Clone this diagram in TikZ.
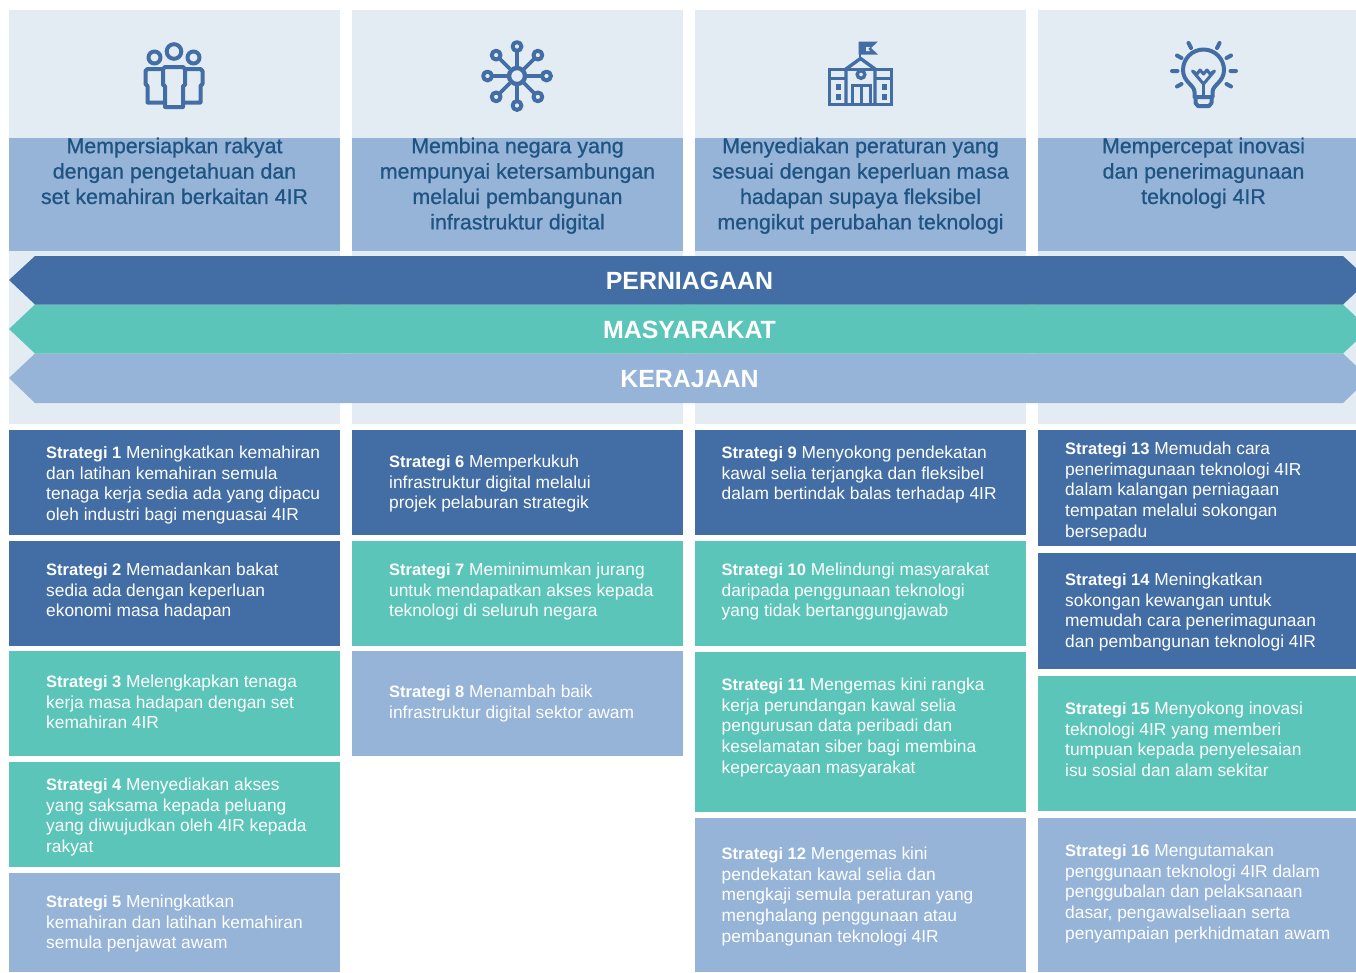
\documentclass[tikz,border=0pt]{standalone}
\usepackage{fontspec}
\usetikzlibrary{calc}
\setmainfont{Liberation Sans}
\newfontfamily\medfont[FakeBold=0.8]{Liberation Sans}
\definecolor{cdark}{HTML}{436EA5}
\definecolor{cteal}{HTML}{5BC5BA}
\definecolor{clight}{HTML}{96B4D8}
\definecolor{cpale}{HTML}{E3ECF3}
\definecolor{chead}{HTML}{1F5482}
\tikzset{
  x=1pt,y=-1pt,
  stratbox/.style={fill=#1,draw=none,inner sep=0pt,anchor=north west},
  strattext/.style={anchor=north west,inner sep=0pt,text=white,align=left,font=\fontsize{17.35}{20.85}\selectfont},
  headtext/.style={anchor=north,inner sep=0pt,text=chead,align=center,font=\fontsize{21.35}{25.4}\selectfont\medfont},
  bannertext/.style={anchor=base,text=white,inner sep=0pt,font=\fontsize{24.9}{30}\selectfont\bfseries},
  icon/.style={draw=cdark,line width=4pt,line join=round,line cap=round,fill=none},
}
\newcommand{\strat}[9]{%
  \node[stratbox=#6,minimum width=#5pt,minimum height=\the\numexpr#3-#2\relax pt] (b#1) at (#9,#2) {};
  \node[strattext] (t#1) at (#4,#7-14) {\rule{0pt}{14pt}{\fontsize{16.5}{20.85}\selectfont\bfseries Strategi #1} #8};
}
\newcommand{\bannerpath}[4]{%
  \fill[#1] (9,#3) -- (35,#2) -- (1343,#2) -- (1369,#3) -- (1343,#4) -- (35,#4) -- cycle;
}
\begin{document}
\begin{tikzpicture}
\useasboundingbox (0,0) rectangle (1356,972);
\clip (0,0) rectangle (1356,972);
% pale column backgrounds
\foreach \cx/\cw in {9/331,352/331,695/331,1038/318}{
  \fill[cpale] (\cx,10) rectangle ++(\cw,414);
  \fill[clight] (\cx,138) rectangle ++(\cw,113);
}
% icons: people
\draw[icon] (174,51.5) circle (7.3);
\draw[icon] (154.5,57.5) circle (6);
\draw[icon] (193.5,57.5) circle (6);
\draw[icon] (165,67) -- (183,67) -- (185,69) -- (185,85) -- (183,86) -- (183,107) -- (165,107) -- (165,86) -- (163,85) -- (163,69) -- cycle;
\draw[icon] (163,69) -- (147.5,69) -- (145.5,71) -- (145.5,84) -- (147.5,86) -- (147.5,102.5) -- (165,102.5);
\draw[icon] (185,69) -- (200.5,69) -- (202.5,71) -- (202.5,84) -- (200.5,86) -- (200.5,102.5) -- (183,102.5);
% icons: network
\draw[icon,line width=4.4pt] (517,76) circle (8);
\foreach \a in {0,45,...,315}{
  \draw[draw=cdark,line width=3.6pt] ($(517,76)+(\a:10)$) -- ($(517,76)+(\a:25)$);
  \draw[icon,line width=4pt] ($(517,76)+(\a:29.5)$) circle (4.4);
}
% icons: building
\draw[draw=cdark,line width=3.4pt,line join=miter] (829.7,69.7) rectangle (891.3,104.7);
\draw[draw=cdark,line width=3.4pt,line join=miter] (846,105) -- (846,69) -- (860.5,58.5) -- (875,69) -- (875,105);
\draw[draw=cdark,line width=3.4pt] (829.5,78.5) -- (846,78.5) (875,78.5) -- (891.5,78.5);
\draw[draw=cdark,line width=2.6pt] (860,58) -- (860,43);
\fill[cdark] (858.7,41.5) -- (878,41.5) -- (871,48) -- (878,54.5) -- (858.7,54.5) -- cycle;
\fill[cpale] (866,47) -- (870,47) -- (868,49) -- (870,51) -- (866,51) -- cycle;
\draw[draw=cdark,line width=3.4pt] (861,74.5) circle (3.8);
\draw[draw=cdark,line width=3pt,line join=miter] (852,105) -- (852,85) -- (870,85) -- (870,105);
\draw[draw=cdark,line width=3pt] (861,85) -- (861,105);
\foreach \wx in {838,884}{
  \fill[cdark] (\wx-2.5,84) rectangle ++(5,6);
  \fill[cdark] (\wx-2.5,93.5) rectangle ++(5,6);
}
% icons: bulb
\draw[icon] (1194.5,97) -- (1194.5,92) .. controls (1194.5,85) and (1183,82) .. (1183,70) arc[start angle=180,end angle=360,radius=20.5] .. controls (1224,82) and (1212.5,85) .. (1212.5,92) -- (1212.5,97) -- cycle;
\draw[icon] (1195.5,97) -- (1195.5,103) -- (1198,106) -- (1209,106) -- (1211.5,103) -- (1211.5,97);
\draw[icon,line width=3pt] (1192.5,71) -- (1197,74) -- (1200,70) -- (1203.5,74) -- (1207,70) -- (1210,74) -- (1214.5,71) -- (1203.5,84) -- cycle;
\draw[icon,line width=3pt] (1203.5,84) -- (1203.5,97);
\draw[icon] (1172,71) -- (1177.5,71) (1230.5,71) -- (1236,71)
  (1177,55.5) -- (1181.5,58) (1231,55.5) -- (1226.5,58)
  (1188.5,43) -- (1191,48) (1219.5,43) -- (1217,48)
  (1177,86.5) -- (1181.5,84) (1231,86.5) -- (1226.5,84);
% headers
\node[headtext] (h1) at (174.5,137.5) {Mempersiapkan rakyat\\dengan pengetahuan dan\\set kemahiran berkaitan 4IR};
\node[headtext] (h2) at (517.5,137.5) {Membina negara yang\\mempunyai ketersambungan\\melalui pembangunan\\infrastruktur digital};
\node[headtext] (h3) at (860.5,137.5) {Menyediakan peraturan yang\\sesuai dengan keperluan masa\\hadapan supaya fleksibel\\mengikut perubahan teknologi};
\node[headtext] (h4) at (1203.5,137.5) {Mempercepat inovasi\\dan penerimagunaan\\teknologi 4IR};
% banners
\bannerpath{clight}{353.5}{378}{403}
\bannerpath{cteal}{304.5}{329}{353.5}
\bannerpath{cdark}{256}{280}{304.5}
\node[bannertext] (pern) at (689.5,289) {PERNIAGAAN};
\node[bannertext] (masy) at (689.5,338) {MASYARAKAT};
\node[bannertext] (kera) at (689.5,387) {KERAJAAN};
% strategies
\strat{1}{430}{535}{46}{331}{cdark}{458}{Meningkatkan kemahiran\\dan latihan kemahiran semula\\tenaga kerja sedia ada yang dipacu\\oleh industri bagi menguasai 4IR}{9}
\strat{2}{541}{646}{46}{331}{cdark}{575}{Memadankan bakat\\sedia ada dengan keperluan\\ekonomi masa hadapan}{9}
\strat{3}{651}{756}{46}{331}{cteal}{687}{Melengkapkan tenaga\\kerja masa hadapan dengan set\\kemahiran 4IR}{9}
\strat{4}{762}{867}{46}{331}{cteal}{790}{Menyediakan akses\\yang saksama kepada peluang\\yang diwujudkan oleh 4IR kepada\\rakyat}{9}
\strat{5}{873}{972}{46}{331}{clight}{907}{Meningkatkan\\kemahiran dan latihan kemahiran\\semula penjawat awam}{9}
\strat{6}{430}{535}{389}{331}{cdark}{467}{Memperkukuh\\infrastruktur digital melalui\\projek pelaburan strategik}{352}
\strat{7}{541}{646}{389}{331}{cteal}{575}{Meminimumkan jurang\\untuk mendapatkan akses kepada\\teknologi di seluruh negara}{352}
\strat{8}{651}{756}{389}{331}{clight}{697}{Menambah baik\\infrastruktur digital sektor awam}{352}
\strat{9}{430}{535}{721.5}{331}{cdark}{458}{Menyokong pendekatan\\kawal selia terjangka dan fleksibel\\dalam bertindak balas terhadap 4IR}{695}
\strat{10}{541}{646}{721.5}{331}{cteal}{575}{Melindungi masyarakat\\daripada penggunaan teknologi\\yang tidak bertanggungjawab}{695}
\strat{11}{652}{812}{721.5}{331}{cteal}{690}{Mengemas kini rangka\\kerja perundangan kawal selia\\pengurusan data peribadi dan\\keselamatan siber bagi membina\\kepercayaan masyarakat}{695}
\strat{12}{818}{972}{721.5}{331}{clight}{859}{Mengemas kini\\pendekatan kawal selia dan\\mengkaji semula peraturan yang\\menghalang penggunaan atau\\pembangunan teknologi 4IR}{695}
\strat{13}{430}{546}{1065}{318}{cdark}{454}{Memudah cara\\penerimagunaan teknologi 4IR\\dalam kalangan perniagaan\\tempatan melalui sokongan\\bersepadu}{1038}
\strat{14}{553}{669}{1065}{318}{cdark}{585}{Meningkatkan\\sokongan kewangan untuk\\memudah cara penerimagunaan\\dan pembangunan teknologi 4IR}{1038}
\strat{15}{676}{811}{1065}{318}{cteal}{714}{Menyokong inovasi\\teknologi 4IR yang memberi\\tumpuan kepada penyelesaian\\isu sosial dan alam sekitar}{1038}
\strat{16}{818}{972}{1065}{318}{clight}{856}{Mengutamakan\\penggunaan teknologi 4IR dalam\\penggubalan dan pelaksanaan\\dasar, pengawalseliaan serta\\penyampaian perkhidmatan awam}{1038}
\end{tikzpicture}
\end{document}
